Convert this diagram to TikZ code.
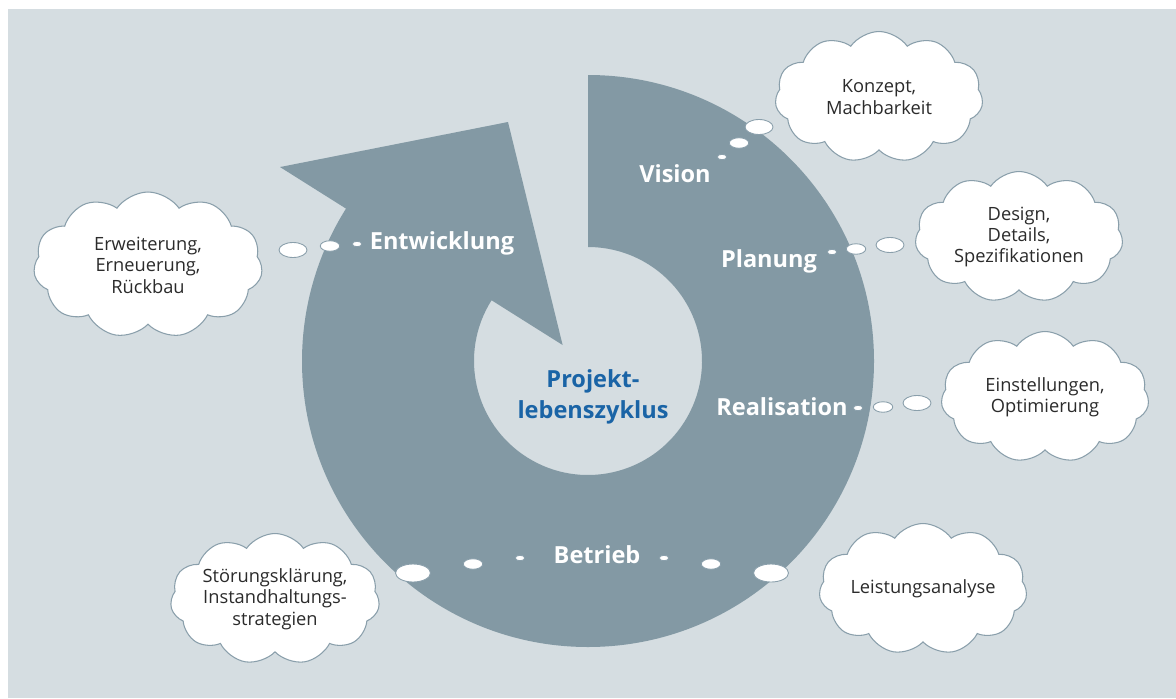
\documentclass[tikz,border=0pt]{standalone}
\usepackage{fontspec}
\setmainfont{Open Sans}
\usetikzlibrary{calc,shapes.symbols,shapes.geometric}
\definecolor{panel}{HTML}{D5DDE1}
\definecolor{ring}{HTML}{8399A4}
\definecolor{edge}{HTML}{8A9FAB}
\definecolor{ink}{HTML}{2B2B2B}
\definecolor{titleblue}{HTML}{1A64A6}
\tikzset{
	cloudbox/.style = {shape=cloud, cloud puffs=11, cloud puff arc=110, cloud ignores aspect, draw=edge, fill=white, line width=0.6pt, align=center, inner sep=0pt, minimum width=4.16cm, minimum height=2.62cm, text=ink, font=\fontsize{10.4}{12.2}\selectfont},
	phase/.style = {text=white, font=\fontsize{13.4}{16}\selectfont\bfseries},
	title/.style = {text=titleblue, align=center, font=\fontsize{13.4}{17.6}\selectfont\bfseries},
	bubble/.style = {shape=ellipse, draw=edge, fill=white, line width=0.5pt, inner sep=0pt},
	bub-s/.style = {bubble, minimum width=0.19cm, minimum height=0.11cm},
	bub-m/.style = {bubble, minimum width=0.39cm, minimum height=0.21cm},
	bub-l/.style = {bubble, minimum width=0.56cm, minimum height=0.30cm},
	bub-xl/.style = {bubble, minimum width=0.70cm, minimum height=0.36cm},
}
\begin{document}
\begin{tikzpicture}[x=0.02cm, y=0.02cm]
	\useasboundingbox (0,0) rectangle (1176,698);
	\fill[white] (0,0) rectangle (1176,698);
	\fill[panel] (8,0) rectangle (1176,689);

	% ring with arrow head
	\coordinate (c) at (588,337);
	\coordinate (tip) at (508,576);
	\fill[ring] ($(c)+(90:286)$) arc[start angle=90, end angle=-212.2, radius=286]
		-- ($(c)+(147.8:364)$) -- (tip) -- ($(c)+(147.8:30)$)
		-- ($(c)+(147.8:114)$) arc[start angle=-212.2, end angle=90, radius=114] -- cycle;

	\node[title] (zyklus) at (593,301) {Projekt-\\lebenszyklus};

	\node[phase] (vision) at (675,524) {Vision};
	\node[phase] (planung) at (769,437) {Planung};
	\node[phase] (realisation) at (782,291) {Realisation};
	\node[phase] (betrieb) at (597,143) {Betrieb};
	\node[phase] (entwicklung) at (442,455) {Entwicklung};

	% clouds
	\node[cloudbox] (konzept) at (879,601) {Konzept,\\Machbarkeit};
	\node[cloudbox] (design) at (1019,461) {Design,\\Details,\\Spezifikationen};
	\node[cloudbox] (einstellung) at (1045,301) {Einstellungen,\\Optimierung};
	\node[cloudbox] (leistung) at (923,109) {Leistungsanalyse};
	\node[cloudbox] (stoerung) at (275,99) {Störungsklärung,\\Instandhaltungs-\\strategien};
	\node[cloudbox, minimum width=4.58cm, minimum height=2.92cm] (erweiterung) at (148,433) {Erweiterung,\\Erneuerung,\\Rückbau};

	% thought bubbles
	\node[bub-s] (v1) at (722,541) {};
	\node[bub-m] (v2) at (739,555) {};
	\node[bub-l] (v3) at (759,571) {};

	\node[bub-s] (p1) at (832,446) {};
	\node[bub-m] (p2) at (856,449) {};
	\node[bub-l] (p3) at (890,453) {};

	\node[bub-s] (r1) at (858,290) {};
	\node[bub-m] (r2) at (883,291) {};
	\node[bub-l] (r3) at (917,295) {};

	\node[bub-s] (e1) at (357,454) {};
	\node[bub-m] (e2) at (330,452) {};
	\node[bub-l] (e3) at (293,448) {};

	\node[bub-s] (b1) at (664,140) {};
	\node[bub-m] (b2) at (711,134) {};
	\node[bub-xl] (b3) at (771,125) {};
	\node[bub-s] (b4) at (520,140) {};
	\node[bub-m] (b5) at (473,134) {};
	\node[bub-xl] (b6) at (413,125) {};
\end{tikzpicture}
\end{document}
